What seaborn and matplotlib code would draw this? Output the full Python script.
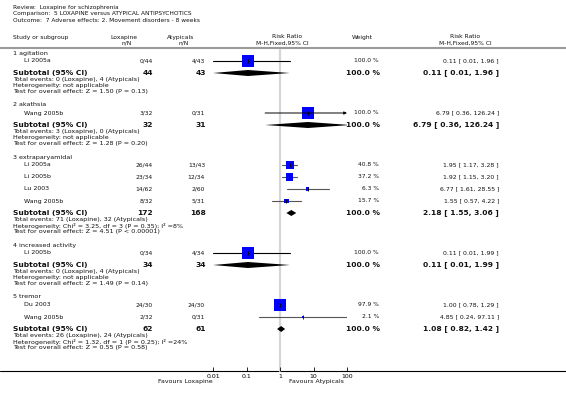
import numpy as np
import pandas as pd
import seaborn as sns
import matplotlib.pyplot as plt
from matplotlib.ticker import NullLocator

"""Data read from the reference forest plot"""
review = 'Review:  Loxapine for schizophrenia'
comparison = 'Comparison:  5 LOXAPINE versus ATYPICAL ANTIPSYCHOTICS'
outcome = 'Outcome:  7 Adverse effects: 2. Movement disorders - 8 weeks'

groups = ['1 agitation', '2 akathsia', '3 extraparyamidal', '4 increased activity', '5 tremor']

study_group  = [0, 1, 2, 2, 2, 2, 3, 4, 4]
study_names  = ['Li 2005a', 'Wang 2005b', 'Li 2005a', 'Li 2005b', 'Lu 2003',
                'Wang 2005b', 'Li 2005b', 'Du 2003', 'Wang 2005b']
lox_counts   = ['0/44', '3/32', '26/44', '23/34', '14/62', '8/32', '0/34', '24/30', '2/32']
aty_counts   = ['4/43', '0/31', '13/43', '12/34', '2/60', '5/31', '4/34', '24/30', '0/31']
study_weight = [100.0, 100.0, 40.8, 37.2, 6.3, 15.7, 100.0, 97.9, 2.1]
study_rr     = [0.11, 6.79, 1.95, 1.92, 6.77, 1.55, 0.11, 1.00, 4.85]
study_lo     = [0.01, 0.36, 1.17, 1.15, 1.61, 0.57, 0.01, 0.78, 0.24]
study_hi     = [1.96, 126.24, 3.28, 3.20, 28.55, 4.22, 1.99, 1.29, 97.11]

sub_lox_n = [44, 32, 172, 34, 62]
sub_aty_n = [43, 31, 168, 34, 61]
sub_rr    = [0.11, 6.79, 2.18, 0.11, 1.08]
sub_lo    = [0.01, 0.36, 1.55, 0.01, 0.82]
sub_hi    = [1.96, 126.24, 3.06, 1.99, 1.42]

total_events = ['Total events: 0 (Loxapine), 4 (Atypicals)',
                'Total events: 3 (Loxapine), 0 (Atypicals)',
                'Total events: 71 (Loxapine), 32 (Atypicals)',
                'Total events: 0 (Loxapine), 4 (Atypicals)',
                'Total events: 26 (Loxapine), 24 (Atypicals)']
heterogeneity = ['Heterogeneity: not applicable',
                 'Heterogeneity: not applicable',
                 'Heterogeneity: Chi² = 3.25, df = 3 (P = 0.35); I² =8%',
                 'Heterogeneity: not applicable',
                 'Heterogeneity: Chi² = 1.32, df = 1 (P = 0.25); I² =24%']
overall = ['Test for overall effect: Z = 1.50 (P = 0.13)',
           'Test for overall effect: Z = 1.28 (P = 0.20)',
           'Test for overall effect: Z = 4.51 (P < 0.00001)',
           'Test for overall effect: Z = 1.49 (P = 0.14)',
           'Test for overall effect: Z = 0.55 (P = 0.58)']

tick_vals = [0.01, 0.1, 1, 10, 100]
tick_labels = ['0.01', '0.1', '1', '10', '100']

"""Row layout (pixels from top)"""
y = 53
head_y, study_y, sub_y, info_y = [], [], [], []
for g in range(len(groups)):
    head_y.append(y)
    y += 8
    for s in range(len(study_names)):
        if study_group[s] == g:
            study_y.append(y)
            y += 12
    sub_y.append(y)
    info_y.append([y + 7, y + 13, y + 19])
    y += 19 + 13

studies = pd.DataFrame({'name': study_names, 'rr': study_rr, 'lo': study_lo,
                        'hi': study_hi, 'w': study_weight, 'y': study_y})
# square side ~12 px at 100 % weight, area proportional to weight
studies['area'] = (12 * np.sqrt(studies['w'] / 100) * 0.72) ** 2

"""Figure"""
sns.set_style('white')
plt.rcParams['font.family'] = ['DejaVu Sans']
W, H = 566, 401
fig = plt.figure(figsize=(W / 100, H / 100), dpi=100)
ax = fig.add_axes([0, 0, 1, 1])
ax.set_xlim(0, W)
ax.set_ylim(H, 0)
ax.axis('off')

x0, x1 = 213, 347
axp = fig.add_axes([x0 / W, 0, (x1 - x0) / W, 1])
axp.patch.set_visible(False)
axp.set_xscale('log')
axp.set_xlim(0.01, 100)
axp.set_ylim(H, 0)

small = 4.3
info = 4.6
bold = 5.4
txt = '#111111'

# title block
ax.text(13, 8, review, fontsize=4.2, va='center', color=txt)
ax.text(13, 14, comparison, fontsize=4.2, va='center', color=txt)
ax.text(13, 20.5, outcome, fontsize=4.2, va='center', color=txt)

# column headers
ax.text(13, 37, 'Study or subgroup', fontsize=small, va='center', color=txt)
ax.text(124, 37, 'Loxapine', fontsize=small, va='center', ha='center', color=txt)
ax.text(127, 43, 'n/N', fontsize=small, va='center', ha='center', color=txt)
ax.text(181, 37, 'Atypicals', fontsize=small, va='center', ha='center', color=txt)
ax.text(184, 43, 'n/N', fontsize=small, va='center', ha='center', color=txt)
ax.text(287, 37, 'Risk Ratio', fontsize=small, va='center', ha='center', color=txt)
ax.text(282, 43, 'M-H,Fixed,95% CI', fontsize=small, va='center', ha='center', color=txt)
ax.text(362, 37, 'Weight', fontsize=small, va='center', ha='center', color=txt)
ax.text(465, 37, 'Risk Ratio', fontsize=small, va='center', ha='center', color=txt)
ax.text(465, 43, 'M-H,Fixed,95% CI', fontsize=small, va='center', ha='center', color=txt)
ax.plot([0, W], [48, 48], color='#9a9a9a', lw=1.5)

# line of no effect
axp.plot([1, 1], [50, 371], color='#d6d6d6', lw=1.6, zorder=0)

# study rows
for i, r in studies.iterrows():
    ax.text(24, r['y'], r['name'], fontsize=small + 0.2, va='center', color=txt)
    ax.text(153, r['y'], lox_counts[i], fontsize=small, va='center', ha='right', color=txt)
    ax.text(205, r['y'], aty_counts[i], fontsize=small, va='center', ha='right', color=txt)
    ax.text(379, r['y'], f"{r['w']:.1f} %", fontsize=small, va='center', ha='right', color=txt)
    ax.text(499, r['y'], f"{r['rr']:.2f} [ {r['lo']:.2f}, {r['hi']:.2f} ]",
            fontsize=small + 0.1, va='center', ha='right', color=txt)
    lcol = 'black' if r['w'] >= 90 else '#555555'
    if r['hi'] > 100:
        axp.annotate('', xy=(100, r['y']), xytext=(r['lo'], r['y']),
                     arrowprops=dict(arrowstyle='-|>', lw=0.7, color='black',
                                     mutation_scale=4, shrinkA=0, shrinkB=0))
    else:
        axp.plot([r['lo'], r['hi']], [r['y'], r['y']], color=lcol, lw=0.8, zorder=1)

sns.scatterplot(data=studies, x='rr', y='y', size='area', sizes=(0, studies['area'].max()),
                size_norm=(0, studies['area'].max()), marker='s', color='#0000ff',
                linewidth=0, legend=False, ax=axp, zorder=2)
axp.scatter(studies['rr'], studies['y'], marker='|', s=5, lw=0.6, color='black', zorder=3)

# subgroup headings, subtotals and diamonds
for g in range(len(groups)):
    ax.text(13, head_y[g], groups[g], fontsize=info, va='center', color=txt)
    yy = sub_y[g]
    ax.text(13, yy, 'Subtotal (95% CI)', fontsize=bold, fontweight='bold', va='center', color=txt)
    ax.text(153, yy, str(sub_lox_n[g]), fontsize=bold, fontweight='bold', va='center', ha='right', color=txt)
    ax.text(206, yy, str(sub_aty_n[g]), fontsize=bold, fontweight='bold', va='center', ha='right', color=txt)
    ax.text(380, yy, '100.0 %', fontsize=bold, fontweight='bold', va='center', ha='right', color=txt)
    ax.text(499, yy, f'{sub_rr[g]:.2f} [ {sub_lo[g]:.2f}, {sub_hi[g]:.2f} ]',
            fontsize=bold, fontweight='bold', va='center', ha='right', color=txt)
    for line, ty in zip([total_events[g], heterogeneity[g], overall[g]], info_y[g]):
        ax.text(13, ty, line, fontsize=info, va='center', color=txt)
    h = 3
    axp.fill([sub_lo[g], sub_rr[g], sub_hi[g], sub_rr[g]], [yy, yy - h, yy, yy + h],
             color='black', lw=0, zorder=2)

# x axis
ax.plot([0, W], [371, 371], color='black', lw=0.8)
axp.yaxis.set_visible(False)
for side in ['top', 'left', 'right']:
    axp.spines[side].set_visible(False)
axp.spines['bottom'].set_position(('data', 371))
axp.spines['bottom'].set_visible(False)
axp.set_xticks(tick_vals)
axp.set_xticklabels(tick_labels)
axp.xaxis.set_minor_locator(NullLocator())
axp.tick_params(axis='x', direction='in', length=3, width=0.6, labelsize=4.5, pad=2,
                colors='black', bottom=True)
axp.set_xlabel('')
ax.text(213, 382, 'Favours Loxapine', fontsize=small + 0.2, va='center', ha='right', color=txt)
ax.text(289, 382, 'Favours Atypicals', fontsize=small + 0.2, va='center', ha='left', color=txt)

fig.savefig('out.png', dpi=100)
